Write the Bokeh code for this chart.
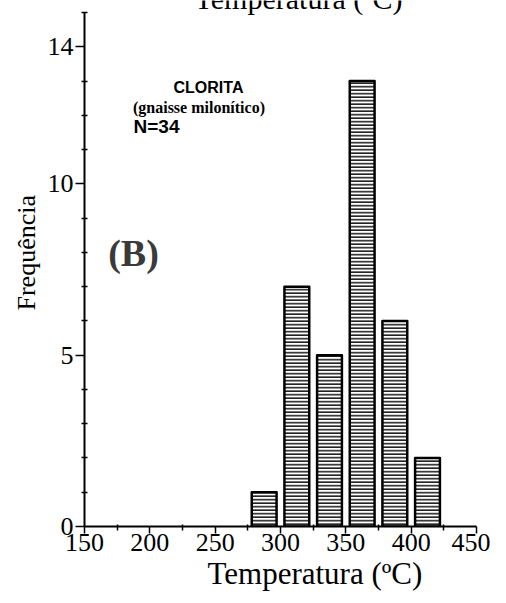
from math import pi
from bokeh.plotting import figure
from bokeh.models import FixedTicker, Label, Range1d, Title
from bokeh.embed import file_html
from bokeh.resources import INLINE

# ---- data ----
bin_centers = [287.5, 312.5, 337.5, 362.5, 387.5, 412.5]
frequencies = [1, 7, 5, 13, 6, 2]
x_ticks = [150, 200, 250, 300, 350, 400, 450]
x_minor = [175, 225, 275, 325, 375, 425]
y_ticks = [0, 5, 10, 14]
y_minor = [1, 2, 3, 4, 6, 7, 8, 9, 11, 12, 13, 15]
x_title = "Temperatura (ºC)"
y_title = "Frequência"
panel = "(B)"
mineral = "CLORITA"
rock = "(gnaisse milonítico)"
count = "N=34"

SERIF = "Liberation Serif"
SANS = "Liberation Sans"

p = figure(width=490, height=595, output_backend="svg", toolbar_location=None,
           x_range=Range1d(150, 450), y_range=Range1d(0, 15.35),
           min_border_left=84, min_border_right=14, min_border_top=0,
           min_border_bottom=69)
p.outline_line_color = None
p.xgrid.visible = False
p.ygrid.visible = False
p.background_fill_color = "white"
p.border_fill_color = "white"

p.vbar(x=bin_centers, top=frequencies, bottom=0, width=19,
       fill_color="white", line_color="black", line_width=2.5, line_join="round",
       hatch_pattern="horizontal_line", hatch_color="#222222", hatch_scale=3.5,
       hatch_weight=1.7)

for ax in (p.xaxis[0], p.yaxis[0]):
    ax.axis_line_width = 2
    ax.axis_line_color = "black"
    ax.major_tick_line_width = 1.5
    ax.minor_tick_line_width = 1.5
    ax.major_label_text_font = SERIF
    ax.major_label_text_font_size = "26px"
    ax.major_label_text_color = "black"
    ax.major_tick_in = 0

p.xaxis.ticker = FixedTicker(ticks=x_ticks, minor_ticks=x_minor)
p.xaxis.major_tick_out = 7
p.xaxis.minor_tick_out = 4
p.xaxis.minor_tick_in = 2
p.xaxis.major_label_standoff = 0

p.yaxis.ticker = FixedTicker(ticks=y_ticks, minor_ticks=y_minor)
p.yaxis.bounds = (0, 15)
p.yaxis.major_tick_out = 9
p.yaxis.minor_tick_out = 3
p.yaxis.minor_tick_in = 3
p.yaxis.major_label_standoff = 2

# axis titles as Title annotations in the side panels
p.add_layout(Title(text=x_title, text_font=SERIF, text_font_size="31px",
                   text_font_style="normal", text_color="black",
                   align="left", offset=123, standoff=0), "below")
p.add_layout(Title(text=y_title, text_font=SERIF, text_font_size="26px",
                   text_font_style="normal", text_color="black",
                   align="left", offset=216, standoff=8), "left")

# cut-off title of the panel above (partly outside the window, as in the scan)
p.add_layout(Label(x=313.8, y=15.41, text=x_title, text_font=SERIF,
                   text_font_size="30px", text_align="center",
                   text_baseline="alphabetic", text_color="black"))

p.add_layout(Label(x=244.9, y=12.81, text=mineral, text_font=SANS,
                   text_font_style="bold", text_font_size="16px",
                   text_align="center", text_baseline="alphabetic",
                   text_color="black"))
p.add_layout(Label(x=237.6, y=12.225, text=rock, text_font=SERIF,
                   text_font_style="bold", text_font_size="16px",
                   text_align="center", text_baseline="alphabetic",
                   text_color="black"))
p.add_layout(Label(x=187.5, y=11.67, text=count, text_font=SANS,
                   text_font_style="bold", text_font_size="19px",
                   text_align="left", text_baseline="alphabetic",
                   text_color="black"))
p.add_layout(Label(x=187.5, y=7.99, text=panel, text_font=SERIF,
                   text_font_style="bold", text_font_size="38px",
                   text_align="center", text_baseline="alphabetic",
                   text_color="#3a3a3a"))

open("out.html", "w").write(file_html(p, INLINE))
